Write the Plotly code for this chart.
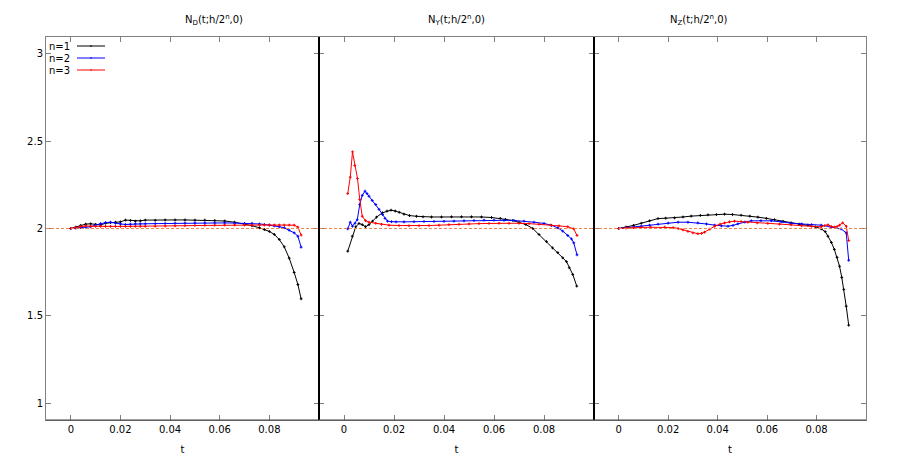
import plotly.graph_objects as go
from plotly.subplots import make_subplots

# ---------------- data ----------------
titles = ["N<sub>D</sub>(t;h/2<sup>n</sup>,0)", "N<sub>Y</sub>(t;h/2<sup>n</sup>,0)", "N<sub>Z</sub>(t;h/2<sup>n</sup>,0)"]
series_names = ["n=1", "n=2", "n=3"]
ref_value = 2.0

# panel 1
t1 = [0, .002, .004, .006, .008, .010, .012, .014, .016, .018, .020, .022, .024, .026, .028, .030,
      .034, .038, .042, .046, .050, .054, .058, .062, .066, .070, .073, .076, .078, .080, .082, .084,
      .086, .088, .090, .0915, .0928]
p1_n1 = [2.0, 2.008, 2.018, 2.025, 2.027, 2.024, 2.02, 2.03, 2.034, 2.036, 2.038, 2.048, 2.046, 2.042,
         2.044, 2.048, 2.047, 2.049, 2.049, 2.049, 2.048, 2.048, 2.046, 2.043, 2.036, 2.026, 2.016,
         2.004, 1.994, 1.983, 1.966, 1.937, 1.895, 1.83, 1.748, 1.679, 1.597]
p1_n2 = [2.0, 2.002, 2.005, 2.008, 2.01, 2.02, 2.028, 2.034, 2.036, 2.03, 2.026, 2.023, 2.025, 2.027,
         2.027, 2.027, 2.028, 2.029, 2.03, 2.031, 2.032, 2.032, 2.032, 2.032, 2.031, 2.029, 2.03,
         2.026, 2.023, 2.02, 2.015, 2.01, 2.004, 1.99, 1.975, 1.956, 1.893]
p1_n3 = [2.0, 2.006, 2.012, 2.015, 2.013, 2.012, 2.012, 2.012, 2.012, 2.012, 2.012, 2.012, 2.012, 2.012,
         2.012, 2.012, 2.013, 2.014, 2.015, 2.016, 2.017, 2.018, 2.019, 2.02, 2.02, 2.02, 2.02,
         2.02, 2.02, 2.02, 2.02, 2.02, 2.02, 2.02, 2.019, 2.008, 1.962]

# panel 2
t2_n1 = [.0015, .0033, .0047, .006, .0073, .0086, .010, .0114, .013, .0154, .0172, .0188, .0205, .0221,
         .024, .0262, .029, .0316, .035, .039, .043, .047, .051, .055, .059, .0625, .0646, .0675, .070,
         .0727, .0755, .078, .081, .0834, .0855, .0875, .089, .0901, .0915, .0931]
p2_n1 = [1.87, 1.956, 2.01, 2.029, 2.022, 2.01, 2.022, 2.042, 2.065, 2.09, 2.1, 2.105, 2.1, 2.093,
         2.082, 2.074, 2.07, 2.067, 2.066, 2.066, 2.067, 2.067, 2.067, 2.066, 2.063, 2.058, 2.052,
         2.046, 2.036, 2.023, 2.0, 1.966, 1.925, 1.889, 1.862, 1.832, 1.81, 1.775, 1.737, 1.67]
t2_n2 = [.0015, .0025, .0034, .0044, .0053, .0063, .0073, .0084, .0092, .010, .0113, .0127, .014, .0154,
         .0164, .0174, .019, .0208, .024, .028, .032, .036, .040, .044, .048, .052, .056, .060, .064,
         .068, .072, .076, .080, .083, .0855, .0875, .0895, .091, .0919, .0932]
p2_n2 = [1.998, 2.036, 2.013, 2.03, 2.05, 2.137, 2.19, 2.214, 2.2, 2.185, 2.16, 2.137, 2.11, 2.08,
         2.058, 2.042, 2.039, 2.038, 2.038, 2.039, 2.04, 2.04, 2.041, 2.042, 2.044, 2.046, 2.048,
         2.048, 2.047, 2.046, 2.042, 2.036, 2.029, 2.018, 2.004, 1.985, 1.96, 1.94, 1.918, 1.849]
t2_n3 = [.0015, .0025, .0034, .0043, .0054, .0063, .0073, .0086, .010, .0127, .015, .018, .022, .026,
         .030, .034, .038, .042, .046, .050, .054, .058, .062, .066, .070, .074, .078, .0827, .086,
         .0895, .0919, .0932]
p2_n3 = [2.2, 2.294, 2.439, 2.361, 2.286, 2.166, 2.07, 2.045, 2.036, 2.03, 2.024, 2.019, 2.017, 2.016,
         2.016, 2.017, 2.019, 2.022, 2.024, 2.026, 2.028, 2.029, 2.03, 2.03, 2.03, 2.028, 2.025,
         2.019, 2.015, 2.01, 1.998, 1.96]

# panel 3
t3_n1 = [0, .003, .006, .0091, .0125, .0159, .019, .0226, .026, .0293, .033, .0361, .0395, .0428, .046,
         .0495, .053, .0563, .0597, .063, .0665, .0697, .073, .0765, .0795, .0819, .0835, .0846, .086,
         .0872, .0883, .0893, .0902, .091, .092, .093]
p3_n1 = [2.0, 2.008, 2.018, 2.03, 2.044, 2.057, 2.059, 2.061, 2.066, 2.071, 2.075, 2.078, 2.08, 2.082,
         2.08, 2.076, 2.071, 2.065, 2.058, 2.05, 2.041, 2.032, 2.025, 2.019, 2.01, 1.998, 1.982, 1.956,
         1.92, 1.88, 1.835, 1.784, 1.72, 1.651, 1.555, 1.446]
t3_n2 = [0, .003, .006, .0091, .0125, .0159, .020, .024, .028, .032, .0355, .0388, .0415, .0442, .0462,
         .0482, .051, .0536, .0575, .0617, .0657, .0697, .074, .078, .0819, .0859, .0899, .092, .093]
p3_n2 = [2.0, 2.004, 2.008, 2.013, 2.019, 2.025, 2.031, 2.036, 2.036, 2.032, 2.026, 2.019, 2.015, 2.013,
         2.018, 2.027, 2.037, 2.044, 2.045, 2.044, 2.038, 2.03, 2.026, 2.022, 2.019, 2.008, 1.998,
         1.975, 1.818]
t3_n3 = [0, .003, .006, .0091, .013, .0186, .022, .024, .026, .028, .030, .032, .0335, .0347, .0368,
         .0388, .041, .0428, .0448, .0468, .0495, .0522, .056, .0603, .065, .0697, .074, .078, .0819,
         .0833, .0846, .0859, .0872, .0883, .0893, .0906, .092, .093]
p3_n3 = [2.0, 2.003, 2.005, 2.006, 2.007, 2.008, 2.005, 2.0, 1.992, 1.983, 1.975, 1.97, 1.972, 1.979,
         1.996, 2.013, 2.025, 2.032, 2.038, 2.042, 2.04, 2.036, 2.032, 2.029, 2.025, 2.021, 2.016,
         2.012, 2.01, 2.017, 2.021, 2.012, 2.008, 2.012, 2.019, 2.032, 2.013, 1.931]

x_ticks = [0, 0.02, 0.04, 0.06, 0.08]
x_tick_text = ["0", "0.02", "0.04", "0.06", "0.08"]
y_ticks = [1, 1.5, 2, 2.5, 3]
y_tick_text = ["1", "1.5", "2", "2.5", "3"]

panels = [
    [(t1, p1_n1), (t1, p1_n2), (t1, p1_n3)],
    [(t2_n1, p2_n1), (t2_n2, p2_n2), (t2_n3, p2_n3)],
    [(t3_n1, p3_n1), (t3_n2, p3_n2), (t3_n3, p3_n3)],
]
colors = ["#000000", "#0000ff", "#ff0000"]

# ---------------- figure ----------------
W, H = 913, 457
ml, mr, mt, mb = 46, 47, 37, 37
pw = W - ml - mr
ph = H - mt - mb
b1 = (319 - ml) / pw
b2 = (594 - ml) / pw

fig = make_subplots(rows=1, cols=3, horizontal_spacing=0,
                    column_widths=[b1, b2 - b1, 1 - b2])

font = dict(family="DejaVu Sans", size=10, color="#000000")

for c, panel in enumerate(panels):
    for k, (tx, vy) in enumerate(panel):
        fig.add_trace(go.Scatter(
            x=tx, y=vy, mode="lines+markers", name=series_names[k],
            line=dict(color=colors[k], width=1),
            marker=dict(symbol="cross-thin", size=2, color=colors[k],
                        line=dict(color=colors[k], width=1)),
            showlegend=False), row=1, col=c + 1)
    xa = "x" if c == 0 else f"x{c + 1}"
    fig.add_shape(type="line", xref=f"{xa} domain", yref="y" if c == 0 else f"y{c + 1}",
                  x0=0, x1=1, y0=ref_value, y1=ref_value,
                  line=dict(color="#f0844e", width=1, dash="3px,2px"), layer="above")

for c in range(3):
    fig.update_xaxes(range=[-0.01, 0.1], tickvals=x_ticks, ticktext=x_tick_text,
                     ticks="inside", ticklen=5, tickcolor="#808080",
                     showline=True, linecolor="#808080", linewidth=1, mirror="ticks",
                     showgrid=False, zeroline=False, tickfont=font, automargin=False,
                     title=dict(text="t", font=font, standoff=11),
                     row=1, col=c + 1)
    fig.update_yaxes(range=[0.903, 3.097], tickvals=y_ticks, ticktext=y_tick_text,
                     ticks="inside", ticklen=5, tickcolor="#808080",
                     showline=True, linecolor="#808080", linewidth=1, mirror="ticks",
                     showgrid=False, zeroline=False, tickfont=font, automargin=False,
                     showticklabels=(c == 0), row=1, col=c + 1)

# dividers between panels
for bx in (b1, b2):
    fig.add_shape(type="line", xref="paper", yref="paper", x0=bx, x1=bx, y0=0, y1=1,
                  line=dict(color="#000000", width=2))
# bottom border darker
fig.add_shape(type="line", xref="paper", yref="paper", x0=0, x1=1, y0=0, y1=0,
              line=dict(color="#404040", width=1))

# panel titles
centers = [b1 / 2, (b1 + b2) / 2, (b2 + 1) / 2]
for c in range(3):
    fig.add_annotation(text=titles[c], xref="paper", yref="paper", x=centers[c], y=1,
                       yshift=8, yanchor="bottom", showarrow=False, font=font)

# legend (gnuplot style: label then sample)
for k in range(3):
    ypx = 46 + 12 * k
    yp = 1 - (ypx - mt) / ph
    fig.add_annotation(text=series_names[k], xref="paper", yref="paper",
                       x=(72 - ml) / pw, y=yp, xanchor="right", yanchor="middle",
                       showarrow=False, font=font)
    fig.add_shape(type="line", xref="paper", yref="paper",
                  x0=(77 - ml) / pw, x1=(105 - ml) / pw, y0=yp, y1=yp,
                  line=dict(color=colors[k], width=1))
    fig.add_shape(type="line", xref="paper", yref="paper",
                  x0=(91 - ml) / pw, x1=(91 - ml) / pw, y0=yp - 1.0 / ph,
                  y1=yp + 1.0 / ph,
                  line=dict(color=colors[k], width=1))

fig.update_layout(width=W, height=H, margin=dict(l=ml, r=mr, t=mt, b=mb),
                  paper_bgcolor="white", plot_bgcolor="white", font=font,
                  showlegend=False)

fig.write_html("out.html", config={"displayModeBar": False},
               post_script="document.body.style.margin='0';document.body.style.overflow='hidden';")
